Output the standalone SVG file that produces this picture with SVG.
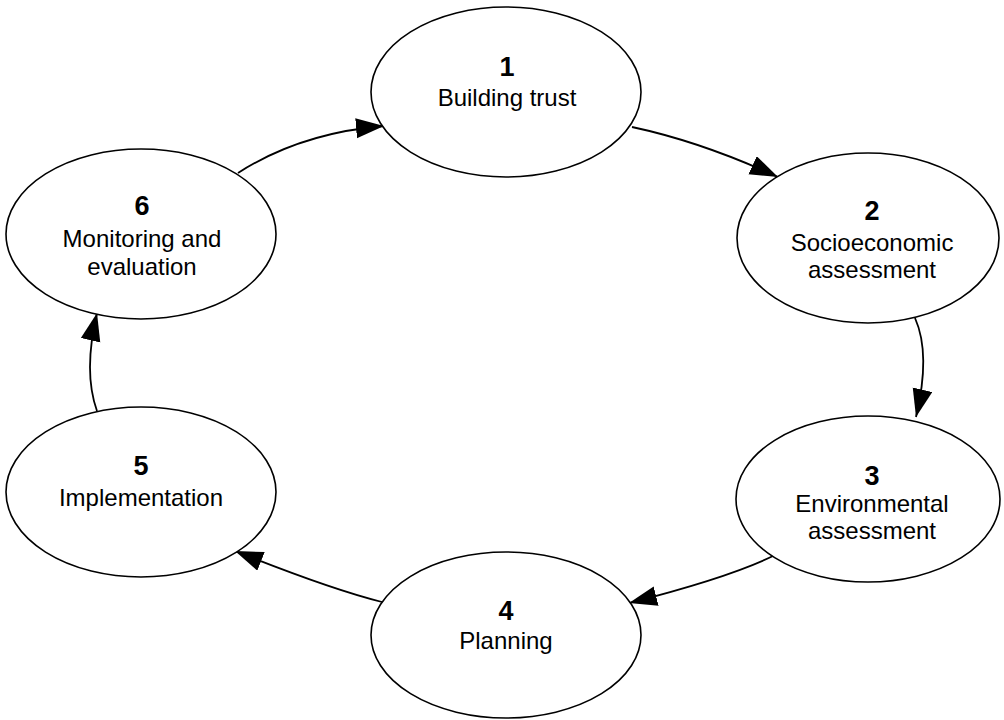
<svg xmlns="http://www.w3.org/2000/svg" width="1004" height="720" viewBox="0 0 1004 720">
<style>
.node ellipse{fill:#fff;stroke:#000;stroke-width:1.6}
.num{font-family:"Liberation Sans",Arial,sans-serif;font-weight:bold;font-size:27px;text-anchor:middle;fill:#000}
.lbl{font-family:"Liberation Sans",Arial,sans-serif;font-size:24px;text-anchor:middle;fill:#000}
.conn path{fill:none;stroke:#000;stroke-width:1.8;marker-end:url(#arr)}
</style>
<defs>
<marker id="arr" markerUnits="userSpaceOnUse" markerWidth="30" markerHeight="22" refX="28" refY="10" orient="auto">
<path d="M0,0 L28,10 L0,20 Z" fill="#000"/>
</marker>
</defs>
<rect width="1004" height="720" fill="#fff"/>
<g class="conn" id="connectors">
<path d="M238,173 Q300,133 384,126"/>
<path d="M632,127 Q702,142 778,177"/>
<path d="M915,318 Q931,354 916,417"/>
<path d="M775,555 Q731,577 629,603"/>
<path d="M382,602 Q330,589 235,551"/>
<path d="M97,411 Q83,372 97,313"/>
</g>
<g class="node" id="n1">
<ellipse cx="506" cy="92" rx="135" ry="85"/>
<text class="num" x="507" y="76">1</text>
<text class="lbl" x="507" y="106">Building trust</text>
</g>
<g class="node" id="n2">
<ellipse cx="868" cy="238" rx="131" ry="85"/>
<text class="num" x="872" y="220">2</text>
<text class="lbl" x="872" y="251">Socioeconomic</text>
<text class="lbl" x="872" y="278">assessment</text>
</g>
<g class="node" id="n3">
<ellipse cx="868" cy="499" rx="132" ry="83"/>
<text class="num" x="872" y="485">3</text>
<text class="lbl" x="872" y="512">Environmental</text>
<text class="lbl" x="872" y="539">assessment</text>
</g>
<g class="node" id="n4">
<ellipse cx="506" cy="635" rx="135" ry="83"/>
<text class="num" x="506" y="620">4</text>
<text class="lbl" x="506" y="649">Planning</text>
</g>
<g class="node" id="n5">
<ellipse cx="141" cy="492" rx="135" ry="85"/>
<text class="num" x="141" y="475">5</text>
<text class="lbl" x="141" y="506">Implementation</text>
</g>
<g class="node" id="n6">
<ellipse cx="141" cy="234" rx="135" ry="85"/>
<text class="num" x="142" y="215">6</text>
<text class="lbl" x="142" y="247">Monitoring and</text>
<text class="lbl" x="142" y="275">evaluation</text>
</g>
</svg>
